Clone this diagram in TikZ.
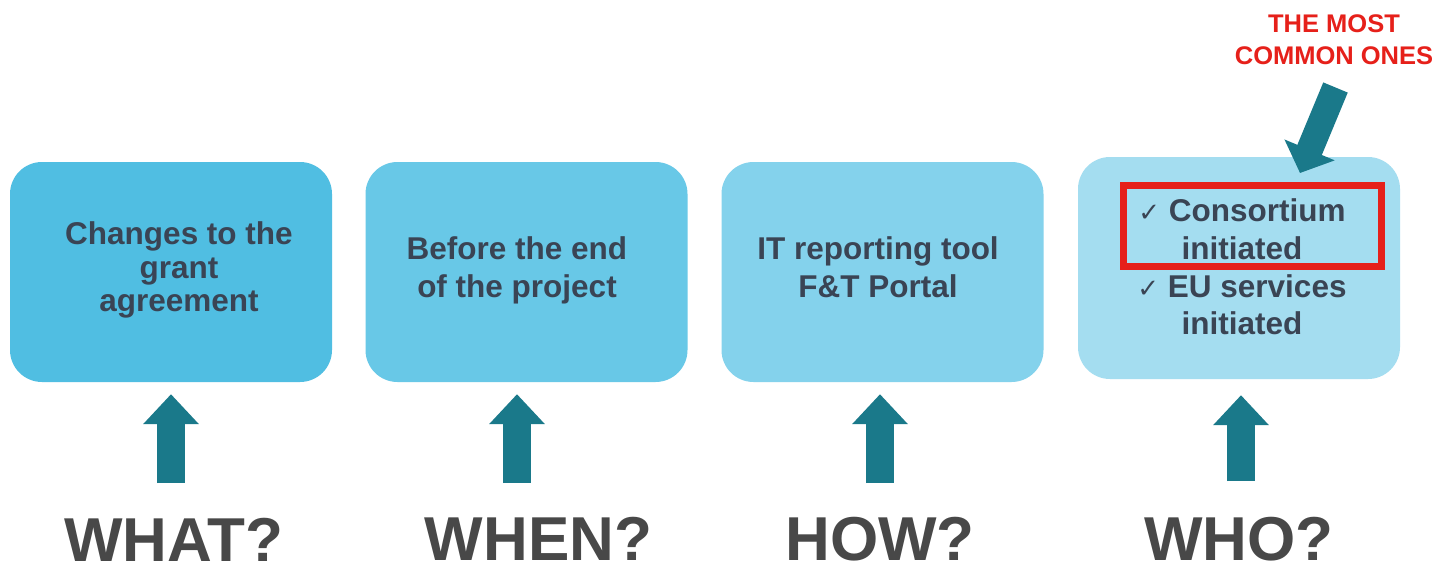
\documentclass[tikz,border=0pt]{standalone}
\usepackage{fontspec}
\setmainfont{Liberation Sans}
\newfontfamily\dejavu{DejaVu Sans}
\usetikzlibrary{arrows.meta}
\definecolor{boxA}{RGB}{80,190,226}
\definecolor{boxB}{RGB}{104,200,231}
\definecolor{boxC}{RGB}{132,210,236}
\definecolor{boxD}{RGB}{164,221,240}
\definecolor{arrowteal}{RGB}{26,121,138}
\definecolor{boxtext}{RGB}{58,68,84}
\definecolor{labelgray}{RGB}{72,72,72}
\definecolor{alertred}{RGB}{230,32,26}
\newcommand{\chk}{{\dejavu\fontsize{26}{26}\selectfont ✓}}
\begin{document}
\begin{tikzpicture}[x=1pt,y=-1pt,
  card/.style={rectangle, rounded corners=32pt, inner sep=0pt, minimum width=322pt, minimum height=220pt},
  boxtxt/.style={font=\bfseries\fontsize{31.5}{38}\selectfont, text=boxtext, align=center, inner sep=0pt},
  bigq/.style={font=\bfseries\fontsize{62}{62}\selectfont, text=labelgray, anchor=base, inner sep=0pt},
  uparrow/.style={draw=arrowteal, line width=28pt, -{Triangle[width=54pt,length=30pt]}, shorten >=12pt},
  diagarrow/.style={draw=arrowteal, line width=26.5pt, -{Triangle[width=53pt,length=25pt]}}
]
\useasboundingbox (0,0) rectangle (1441,570);
\fill[white] (0,0) rectangle (1441,570);

% boxes
\node[card, fill=boxA] (b1) at (171,272) {};
\node[card, fill=boxB] (b2) at (526.5,272) {};
\node[card, fill=boxC] (b3) at (882.5,272) {};
\node[card, fill=boxD, minimum height=222pt] (b4) at (1239,268) {};

% box texts
\node[boxtxt, font=\bfseries\fontsize{31.5}{33.5}\selectfont] (t1) at (179,270.1) {Changes to the\\grant\\agreement};
\node[boxtxt] (t2) at (517,270.7) {Before the end\\of the project};
\node[boxtxt] (t3) at (878,267.7) {IT reporting tool\\F\&T Portal};
\node[boxtxt, font=\bfseries\fontsize{31.5}{37.7}\selectfont] (t4) at (1242,266.9) {\chk{} Consortium\\initiated\\\chk{} EU services\\initiated};

% red highlight
\node[draw=alertred, line width=7pt, rectangle, inner sep=0pt, minimum width=258pt, minimum height=81pt] (redbox) at (1252.5,226) {};
\node[font=\bfseries\fontsize{25.5}{32}\selectfont, text=alertred, align=center, inner sep=0pt] (common) at (1334,39.9) {THE MOST\\COMMON ONES};

% question labels
\node[bigq] (what) at (174,561) {WHAT?};
\node[bigq] (when) at (538.5,560) {WHEN?};
\node[bigq] (how) at (880,560) {HOW?};
\node[bigq] (who) at (1239,560) {WHO?};

% arrow tails
\coordinate (a1) at (171,483);
\coordinate (a2) at (517,483);
\coordinate (a3) at (880,483);
\coordinate (a4) at (1241,481);
\draw[uparrow] (a1) -- (a1 |- b1.south);
\draw[uparrow] (a2) -- (a2 |- b2.south);
\draw[uparrow] (a3) -- (a3 |- b3.south);
\draw[uparrow, shorten >=16pt] (a4) -- (a4 |- b4.south);

% diagonal arrow
\coordinate (dtail) at (1335.5,87.5);
\coordinate (dtip) at (1300,173);
\draw[diagarrow] (dtail) -- (dtip);
\end{tikzpicture}
\end{document}
